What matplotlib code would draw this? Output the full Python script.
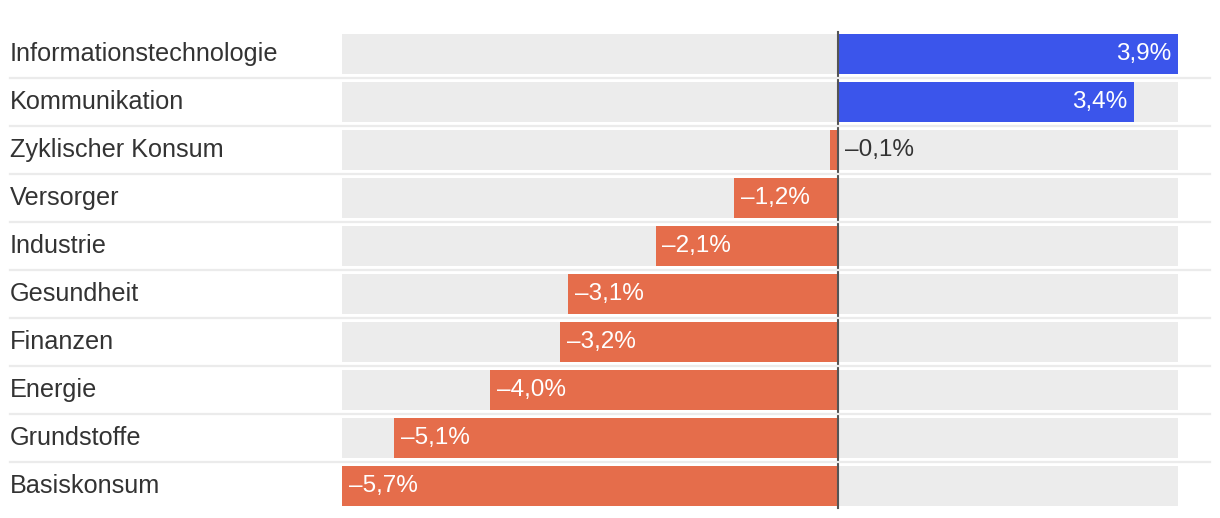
import matplotlib.pyplot as plt
import matplotlib.transforms as mtransforms

plt.rcParams['font.family'] = ['Liberation Sans', 'DejaVu Sans']

# Sector performance
sectors = ["Informationstechnologie", "Kommunikation", "Zyklischer Konsum", "Versorger",
           "Industrie", "Gesundheit", "Finanzen", "Energie", "Grundstoffe", "Basiskonsum"]
values = [3.9, 3.4, -0.1, -1.2, -2.1, -3.1, -3.2, -4.0, -5.1, -5.7]

pos_color = "#3b55eb"
neg_color = "#e56d4b"
bg_color = "#ececec"
text_color = "#333333"

W, H = 1220, 518
fig = plt.figure(figsize=(W / 100, H / 100), dpi=100)
# axes placed in pixel coords: left 342, right 1178, top 30, bottom 510
ax = fig.add_axes([342 / W, (H - 510) / H, (1178 - 342) / W, 480 / H])

xmin, xmax = min(values), max(values)
n = len(sectors)
ys = list(range(n))
bar_h = 40 / 48

# background bars over the whole domain
ax.barh(ys, [xmax - xmin] * n, left=xmin, height=bar_h, color=bg_color, zorder=1)
colors = [pos_color if v >= 0 else neg_color for v in values]
ax.barh(ys, values, height=bar_h, color=colors, zorder=2)

ax.set_xlim(xmin, xmax)
ax.set_ylim(n - 0.5, -0.5)
ax.axis("off")

# zero line
ax.axvline(0, color="#555555", lw=1.5, ymax=0.996, ymin=0.004, zorder=3)

# row separators, spanning from the labels to the right edge
tr = mtransforms.blended_transform_factory(fig.transFigure, ax.transData)
for i in range(n - 1):
    ax.plot([10 / W, 1210 / W], [i + 0.5, i + 0.5], transform=tr, color="#ebebeb",
            lw=1.6, clip_on=False, zorder=4)

# category labels
for y, name in zip(ys, sectors):
    ax.text(10 / W, y, name, transform=tr, ha="left", va="center",
            fontsize=18.2, color=text_color)

# value labels
pad = mtransforms.ScaledTranslation(7 / 100, 0, fig.dpi_scale_trans)
pad_l = mtransforms.ScaledTranslation(-7 / 100, 0, fig.dpi_scale_trans)
for y, v in zip(ys, values):
    label = f"{abs(v):.1f}%".replace(".", ",")
    if v < 0:
        label = "\u2013" + label
    if abs(v) < 0.5:
        ax.text(0, y, label, ha="left", va="center", fontsize=17.5, color=text_color,
                transform=ax.transData + pad, zorder=5)
    elif v >= 0:
        ax.text(v, y, label, ha="right", va="center", fontsize=17.5, color="white",
                transform=ax.transData + pad_l, zorder=5)
    else:
        ax.text(v, y, label, ha="left", va="center", fontsize=17.5, color="white",
                transform=ax.transData + pad, zorder=5)

fig.savefig("out.png", dpi=100)
